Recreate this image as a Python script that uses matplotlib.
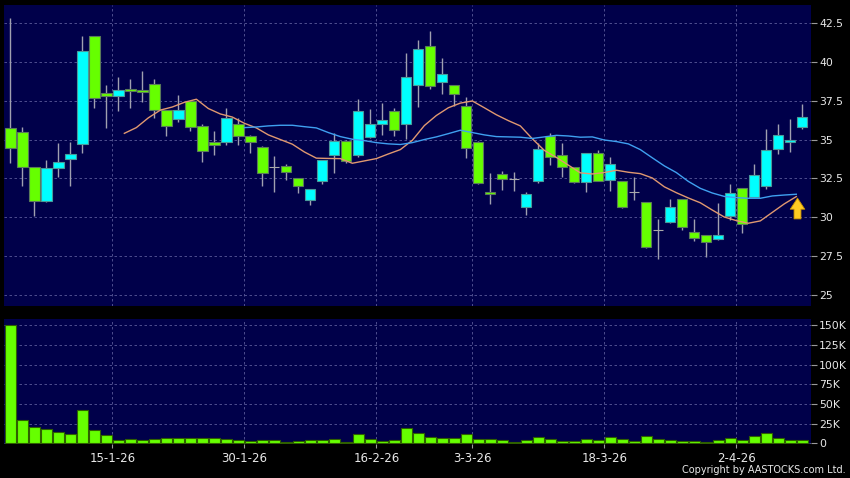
import numpy as np
import matplotlib
matplotlib.use("Agg")
import matplotlib.pyplot as plt

# daily candles (index 0 = first trading day shown)
opens = [35.73, 35.47, 33.21, 31.02, 33.15, 33.77, 34.69, 41.70, 37.98, 37.79,
         38.24, 38.18, 38.56, 36.91, 36.33, 37.49, 35.85, 34.82, 34.82, 35.98,
         35.21, 34.54, 33.23, 33.27, 32.50, 31.08, 32.31, 33.98, 34.89, 33.98,
         35.15, 35.98, 36.87, 36.01, 38.50, 41.04, 38.69, 38.50, 37.17, 34.82,
         31.60, 32.76, 32.44, 30.63, 32.31, 35.21, 33.98, 33.21, 32.24, 34.11,
         32.37, 32.31, 31.64, 30.99, 29.17, 29.66, 31.15, 29.02, 28.82, 28.56,
         30.07, 31.90, 31.27, 31.98, 34.37, 34.82, 35.79]
highs = [42.82, 35.83, 33.21, 33.68, 34.76, 34.82, 41.68, 41.70, 38.52, 39.02,
         38.89, 39.42, 38.91, 36.91, 37.88, 37.49, 36.00, 35.55, 37.02, 36.37,
         35.30, 34.60, 33.96, 33.45, 32.50, 31.80, 33.70, 35.40, 34.95, 37.60,
         37.00, 37.34, 37.06, 40.56, 41.42, 42.00, 40.24, 38.50, 37.77, 34.90,
         32.84, 32.97, 32.91, 31.60, 34.75, 35.45, 34.78, 33.21, 34.11, 34.31,
         33.85, 32.31, 32.61, 31.00, 29.88, 31.14, 31.15, 29.88, 28.85, 30.89,
         32.14, 31.90, 33.40, 35.68, 36.00, 36.35, 37.30]
lows = [33.51, 32.03, 30.07, 31.00, 32.61, 32.03, 34.16, 37.06, 35.77, 36.87,
        37.06, 37.45, 36.37, 35.25, 36.16, 35.58, 33.58, 34.01, 34.65, 34.65,
        34.16, 32.03, 31.64, 32.41, 31.57, 30.80, 32.11, 32.87, 33.50, 33.90,
        35.10, 35.30, 35.20, 35.02, 37.12, 38.24, 37.94, 37.17, 33.83, 32.15,
        30.84, 31.75, 31.68, 30.11, 32.20, 33.38, 32.61, 32.18, 31.60, 32.30,
        31.68, 30.60, 31.10, 28.00, 27.32, 29.60, 29.17, 28.44, 27.40, 28.50,
        29.81, 29.00, 31.20, 31.83, 34.07, 34.22, 35.66]
closes = [34.44, 33.21, 31.02, 33.15, 33.58, 34.05, 40.74, 37.66, 37.79, 38.18,
          38.11, 38.05, 36.91, 35.85, 36.91, 35.79, 34.24, 34.63, 36.37, 35.21,
          34.82, 32.82, 33.23, 32.89, 31.98, 31.79, 33.66, 34.89, 33.60, 36.87,
          35.98, 36.24, 35.60, 39.02, 40.82, 38.46, 39.23, 37.96, 34.44, 32.22,
          31.47, 32.44, 32.44, 31.47, 34.38, 33.86, 33.21, 32.24, 34.11, 32.31,
          33.40, 30.65, 31.64, 28.09, 29.17, 30.67, 29.34, 28.63, 28.37, 28.82,
          31.58, 29.55, 32.69, 34.35, 35.27, 35.00, 36.44]
volumes_k = [150.0, 30.0, 21.2, 18.6, 14.4, 11.4, 42.4, 16.5, 10.6, 4.2,
             5.5, 3.8, 5.1, 6.8, 6.8, 6.4, 6.4, 6.8, 5.5, 4.2,
             3.4, 4.2, 3.8, 1.7, 2.5, 4.2, 4.2, 5.9, 1.7, 11.4,
             5.9, 3.0, 4.2, 19.1, 12.6, 8.1, 7.2, 6.4, 11.4, 5.9,
             5.1, 3.8, 1.3, 4.7, 7.6, 5.5, 3.4, 2.5, 5.1, 4.2,
             8.1, 5.9, 3.4, 8.9, 5.9, 4.2, 2.5, 2.5, 2.1, 4.2,
             6.8, 3.8, 9.7, 13.6, 6.8, 4.7, 4.7]

# moving averages as drawn (first point at candle index ma_short_start)
ma_short_start = 9
ma_short = [35.40, 35.77, 36.40, 36.90, 37.10, 37.40, 37.60, 37.00, 36.65, 36.45,
            36.05, 35.75, 35.30, 35.00, 34.70, 34.20, 33.80, 33.78, 33.77, 33.47,
            33.62, 33.77, 34.07, 34.35, 34.95, 35.90, 36.55, 37.05, 37.35, 37.49,
            37.05, 36.60, 36.22, 35.88, 35.05, 34.30, 33.85, 33.35, 32.85, 32.78,
            32.87, 33.02, 32.89, 32.80, 32.52, 31.95, 31.57, 31.23, 30.92, 30.45,
            30.00, 29.77, 29.60, 29.75, 30.30, 30.85, 31.32]
ma_long_start = 19
ma_long = [35.77, 35.81, 35.88, 35.92, 35.92, 35.83, 35.75, 35.45, 35.19, 35.02,
           34.93, 34.80, 34.72, 34.68, 34.80, 35.00, 35.17, 35.38, 35.60, 35.45,
           35.30, 35.19, 35.17, 35.15, 35.07, 35.17, 35.27, 35.23, 35.15, 35.17,
           34.97, 34.87, 34.72, 34.35, 33.82, 33.30, 32.87, 32.30, 31.85, 31.55,
           31.33, 31.25, 31.21, 31.21, 31.36, 31.42, 31.47]

date_labels = ["15-1-26", "30-1-26", "16-2-26", "3-3-26", "18-3-26", "2-4-26"]
date_index = [8, 19, 30, 38, 49, 60]
price_ticks = [25, 27.5, 30, 32.5, 35, 37.5, 40, 42.5]
price_labels = ["25", "27.5", "30", "32.5", "35", "37.5", "40", "42.5"]
vol_ticks = [0, 25, 50, 75, 100, 125, 150]
vol_labels = ["0", "25K", "50K", "75K", "100K", "125K", "150K"]
arrow_low, arrow_high = 29.7, 31.4

BG = "#00004a"
UP = "#00FFFF"
DOWN = "#66FF00"
GRID = "#5a5a9a"
TXT = "#E8E8E8"

fig = plt.figure(figsize=(8.5, 4.78), dpi=100, facecolor="black")
ax = fig.add_axes([4 / 850, 1 - 306 / 478, 806.7 / 850, 301 / 478])
axv = fig.add_axes([4 / 850, 1 - 444 / 478, 806.7 / 850, 125 / 478])

idx = np.arange(len(opens))
o = np.array(opens)
c = np.array(closes)
colors = np.where(c > o, UP, np.where(c < o, DOWN, "#aaaaaa"))
edges = np.where(c > o, "#4a9a9a", np.where(c < o, "#5a7a5a", "#aaaaaa"))

ax.vlines(idx, lows, highs, color="#a0a0b0", linewidth=1, zorder=2)
ax.bar(idx, np.abs(c - o), bottom=np.minimum(o, c), width=0.86,
       color=colors, edgecolor=edges, linewidth=0.8, zorder=3)

xs = np.arange(len(ma_short)) + ma_short_start + 0.5
ax.plot(xs, ma_short, color="#E09870", linewidth=1, zorder=4)
xl = np.arange(len(ma_long)) + ma_long_start + 0.5
ax.plot(xl, ma_long, color="#3FA0F0", linewidth=1, zorder=4)

ax.annotate("", xy=(65.6, arrow_high), xytext=(65.6, arrow_low),
            arrowprops=dict(arrowstyle="simple,head_width=1.05,head_length=0.8,tail_width=0.5",
                            mutation_scale=10, fc="#FFCC22", ec="#C89000", lw=0.6),
            zorder=5)

axv.bar(idx, volumes_k, width=0.88, color=DOWN, edgecolor="#2f6000",
        linewidth=0.8, zorder=3)

xlim = (-0.53, 66.7)
for a in (ax, axv):
    a.set_facecolor(BG)
    a.set_xlim(*xlim)
    a.set_xticks(np.array(date_index) + 0.5)
    a.grid(True, color=GRID, linestyle=(0, (3, 3)), linewidth=0.6, zorder=0)
    a.set_axisbelow(True)
    a.yaxis.tick_right()
    a.tick_params(axis="y", colors="#9a9a9a", labelcolor=TXT, length=4,
                  width=0.8, labelsize=7.8, pad=2)
    for s in a.spines.values():
        s.set_visible(False)

ax.set_ylim(24.26, 43.68)
ax.set_yticks(price_ticks)
ax.set_yticklabels(price_labels)
ax.tick_params(axis="x", length=0, labelbottom=False)

axv.set_ylim(-0.85, 158)
axv.set_yticks(vol_ticks)
axv.set_yticklabels(vol_labels)
axv.set_xticklabels(date_labels)
axv.tick_params(axis="x", colors="#9a9a9a", labelcolor=TXT, length=3,
                width=0.8, labelsize=8.5, pad=3)

fig.text(846 / 850, 1 - 470 / 478, "Copyright by AASTOCKS.com Ltd.",
         color=TXT, fontsize=7, ha="right", va="center")

fig.savefig("out.png", dpi=100, facecolor="black")
